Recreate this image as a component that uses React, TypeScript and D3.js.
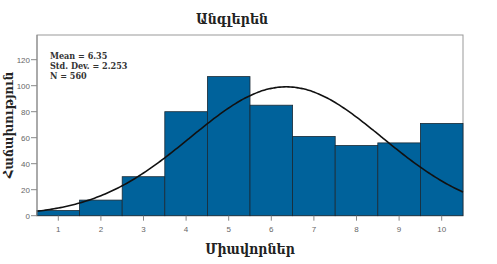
import React from "react";
import * as d3 from "d3";

const binCenters = [1, 2, 3, 4, 5, 6, 7, 8, 9, 10];
const counts = [4, 12, 30, 80, 107, 85, 61, 54, 56, 71];
const yTicks = [0, 20, 40, 60, 80, 100, 120];
const mean = 6.35;
const stdDev = 2.253;
const total = 560;
const statsLines = ["Mean = 6.35", "Std. Dev. = 2.253", "N = 560"];
const title = "Անգլերեն";
const xLabel = "Միավորներ";
const yLabel = "Հաճախություն";

export default function App() {
  const W = 497, H = 264;
  const left = 37, right = 463, top = 35, bottom = 215.7;
  const x = d3.scaleLinear().domain([0.5, 10.5]).range([left, right]);
  const y = d3.scaleLinear().domain([0, 139]).range([bottom, top]);
  const pdf = (v: number) =>
    (total / (stdDev * Math.sqrt(2 * Math.PI))) * Math.exp(-0.5 * ((v - mean) / stdDev) ** 2);
  const xs = d3.range(0.5, 10.5001, 0.05);
  const line = d3.line<number>().x((v) => x(v)).y((v) => y(pdf(v))).curve(d3.curveBasis);
  const font = "'DejaVu Serif Condensed', 'DejaVu Serif', serif";
  return (
    <svg width={W} height={H} style={{ position: "absolute", left: 0, top: 0, background: "#fff" }}>
      <text x={232} y={24} textAnchor="middle" fontFamily={font} fontWeight="bold" fontSize={14} fill="#222">{title}</text>
      <rect x={left} y={top} width={right - left} height={bottom - top} fill="#fff" stroke="#999" strokeWidth={1} />
      {binCenters.map((c, i) => (
        <rect key={i} x={x(c - 0.5)} y={y(counts[i])} width={x(c + 0.5) - x(c - 0.5)} height={bottom - y(counts[i])}
          fill="#00629b" stroke="#1a2a35" strokeWidth={0.8} />
      ))}
      <path d={line(xs) || ""} fill="none" stroke="#111" strokeWidth={1.6} />
      {yTicks.map((t) => (
        <g key={t}>
          <line x1={left - 6} x2={left} y1={y(t)} y2={y(t)} stroke="#888" />
          <text x={left - 7} y={y(t) + 3} textAnchor="end" fontFamily="'Liberation Sans', Arial, sans-serif" fontSize={8} fill="#666">{t}</text>
        </g>
      ))}
      <line x1={left} x2={left} y1={top} y2={bottom} stroke="#888" />
      {binCenters.map((c) => (
        <g key={c}>
          <line x1={x(c)} x2={x(c)} y1={bottom} y2={bottom + 5} stroke="#888" />
          <text x={x(c)} y={bottom + 16} textAnchor="middle" fontFamily="'Liberation Sans', Arial, sans-serif" fontSize={8} fill="#666">{c}</text>
        </g>
      ))}
      {statsLines.map((s, i) => (
        <text key={i} x={50} y={59 + i * 10} fontFamily={font} fontWeight="bold" fontSize={9} fill="#333">{s}</text>
      ))}
      <text x={250} y={254} textAnchor="middle" fontFamily={font} fontWeight="bold" fontSize={14} fill="#222">{xLabel}</text>
      <text transform={`translate(13,125) rotate(-90)`} textAnchor="middle" fontFamily={font} fontWeight="bold" fontSize={13} fill="#222">{yLabel}</text>
    </svg>
  );
}
